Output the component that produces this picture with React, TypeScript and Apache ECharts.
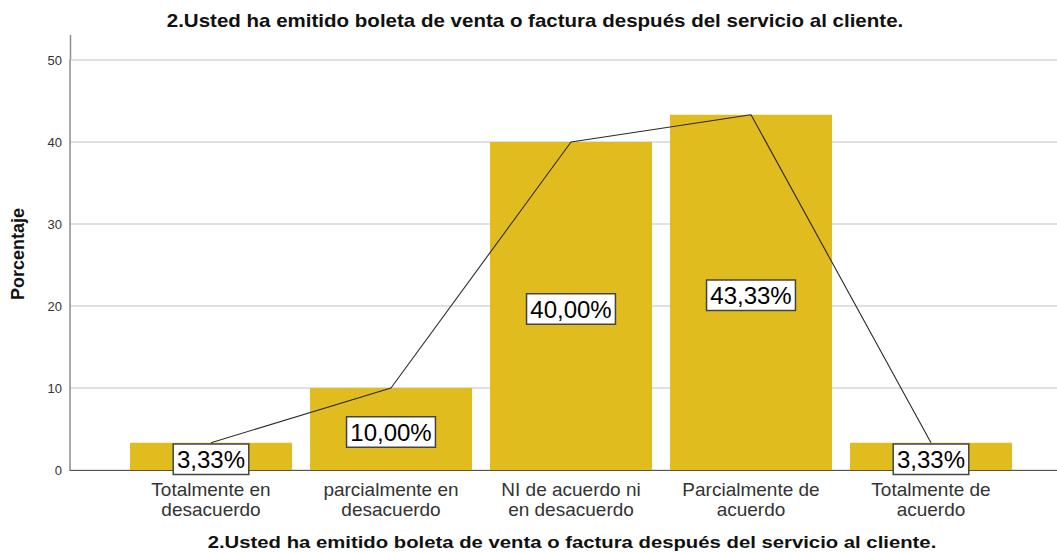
import React, { useEffect, useRef } from "react";
import * as echarts from "echarts";

const categories = [
  "Totalmente en\ndesacuerdo",
  "parcialmente en\ndesacuerdo",
  "NI de acuerdo ni\nen desacuerdo",
  "Parcialmente de\nacuerdo",
  "Totalmente de\nacuerdo",
];
const percentages = [3.33, 10.0, 40.0, 43.33, 3.33];
const yTicks = [0, 10, 20, 30, 40, 50];
const titleText = "2.Usted ha emitido boleta de venta o factura después del servicio al cliente.";
const yName = "Porcentaje";

export default function App() {
  const ref = useRef<HTMLDivElement>(null);
  useEffect(() => {
    if (!ref.current) return;
    const chart = echarts.init(ref.current, null, { renderer: "svg" });
    const fmt = (v: number) => v.toFixed(2).replace(".", ",") + "%";
    chart.setOption({
      animation: false,
      backgroundColor: "#ffffff",
      graphic: [
        {
          type: "line",
          shape: { x1: 70.5, y1: 35, x2: 70.5, y2: 60 },
          style: { stroke: "#8c8c8c", lineWidth: 1.5 },
        },
        {
          type: "text",
          x: 535,
          y: 21,
          scaleX: 1.14,
          style: {
            text: titleText,
            font: "bold 18px 'Liberation Sans', Arial, sans-serif",
            fill: "#111",
            align: "center",
            verticalAlign: "middle",
          },
        },
        {
          type: "text",
          x: 572,
          y: 542,
          scaleX: 1.27,
          style: {
            text: titleText,
            font: "bold 16px 'Liberation Sans', Arial, sans-serif",
            fill: "#111",
            align: "center",
            verticalAlign: "middle",
          },
        },
        {
          type: "text",
          x: 18,
          y: 254,
          rotation: Math.PI / 2,
          style: {
            text: yName,
            font: "bold 18px 'Liberation Sans', Arial, sans-serif",
            fill: "#111",
            align: "center",
            verticalAlign: "middle",
          },
        },
      ],
      grid: [
        { left: 70, right: 0, top: 60, bottom: 82 },
        { left: 121, right: 36, top: 60, bottom: 82 },
      ],
      xAxis: [
        {
          gridIndex: 0,
          type: "value",
          min: 0,
          max: 1,
          axisLabel: { show: false },
          axisTick: { show: false },
          splitLine: { show: false },
          axisLine: { show: true, lineStyle: { color: "#555", width: 1.2 } },
        },
        {
          gridIndex: 1,
          type: "category",
          data: categories,
          axisLine: { show: false },
          axisTick: { show: false },
          axisLabel: {
            interval: 0,
            color: "#333",
            fontSize: 19,
            lineHeight: 20,
            fontFamily: "'Liberation Sans', Arial, sans-serif",
            margin: 9,
          },
        },
      ],
      yAxis: [
        {
          gridIndex: 0,
          type: "value",
          min: yTicks[0],
          max: yTicks[yTicks.length - 1],
          interval: 10,
          axisLine: { show: true, lineStyle: { color: "#8c8c8c", width: 1.5 } },
          axisTick: { show: false },
          axisLabel: {
            color: "#333",
            fontSize: 13,
            fontFamily: "'Liberation Sans', Arial, sans-serif",
            margin: 8,
          },
          splitLine: { show: true, lineStyle: { color: "#d6d6d6", width: 1.5 } },
        },
        {
          gridIndex: 1,
          type: "value",
          min: 0,
          max: 50,
          show: false,
          splitLine: { show: false },
        },
      ],
      series: [
        {
          type: "bar",
          xAxisIndex: 1,
          yAxisIndex: 1,
          data: percentages,
          barWidth: 162,
          itemStyle: { color: "#E0BC1F" },
          z: 2,
        },
        {
          type: "line",
          xAxisIndex: 1,
          yAxisIndex: 1,
          data: percentages,
          symbol: "none",
          lineStyle: { color: "#2a2a2a", width: 1.1 },
          z: 3,
        },
        {
          type: "bar",
          xAxisIndex: 1,
          yAxisIndex: 1,
          data: percentages,
          barWidth: 162,
          barGap: "-100%",
          itemStyle: { color: "rgba(0,0,0,0)" },
          label: {
            show: true,
            position: "inside",
            offset: [0, 3],
            formatter: (p: any) => fmt(p.value),
            color: "#000",
            fontSize: 24,
            fontFamily: "'Liberation Sans', Arial, sans-serif",
            backgroundColor: "#fff",
            borderColor: "#444",
            borderWidth: 1.5,
            padding: [3, 3, 2, 3],
          },
          z: 4,
        },
      ],
    });
    return () => chart.dispose();
  }, []);
  return (
    <div
      ref={ref}
      style={{ position: "fixed", left: 0, top: 0, width: 1057, height: 552 }}
    />
  );
}
